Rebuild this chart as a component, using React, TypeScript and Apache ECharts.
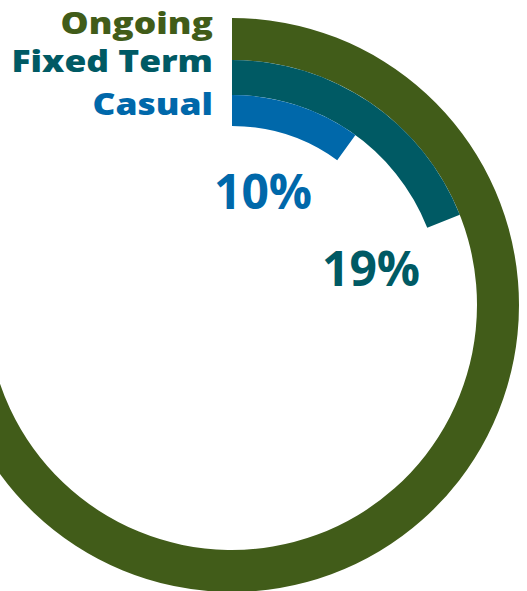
import React, { useEffect, useRef } from 'react';
import * as echarts from 'echarts';

const categories = ['Ongoing', 'Fixed Term', 'Casual'];
const percents = [71, 19, 10];
const colors = ['#415c19', '#005a64', '#0068aa'];
const ringRadii = [[245, 287], [210, 245], [179, 210]];
const nameLabelY = [23, 61, 104];
const pctLabelPos: (number[] | null)[] = [null, [371, 267], [263, 190]];

export default function App() {
  const ref = useRef<HTMLDivElement>(null);
  useEffect(() => {
    const chart = echarts.init(ref.current!, null, { renderer: 'svg' });
    const series = categories.map((name, i) => ({
      type: 'pie',
      name,
      radius: ringRadii[i],
      center: [232, 305],
      startAngle: 90,
      clockwise: true,
      silent: true,
      label: { show: false },
      labelLine: { show: false },
      emphasis: { disabled: true },
      itemStyle: { borderWidth: 0 },
      data: [
        { name, value: percents[i], itemStyle: { color: colors[i] } },
        { name: 'rest', value: 100 - percents[i], itemStyle: { color: 'rgba(0,0,0,0)' } },
      ],
    }));
    const graphic: any[] = [];
    categories.forEach((name, i) => {
      graphic.push({
        type: 'text',
        x: 213,
        y: nameLabelY[i],
        scaleX: 1.18,
        style: {
          text: name,
          font: '800 30px "Open Sans"',
          fill: colors[i],
          align: 'right',
          verticalAlign: 'middle',
        },
      });
      const p = pctLabelPos[i];
      if (p) {
        graphic.push({
          type: 'text',
          x: p[0],
          y: p[1],
          style: {
            text: `${percents[i]}%`,
            font: '700 48px "Open Sans"',
            fill: colors[i],
            align: 'center',
            verticalAlign: 'middle',
          },
        });
      }
    });
    chart.setOption({
      animation: false,
      series,
      graphic,
    });
    return () => chart.dispose();
  }, []);
  return <div ref={ref} style={{ position: 'absolute', left: 0, top: 0, width: 527, height: 591 }} />;
}
